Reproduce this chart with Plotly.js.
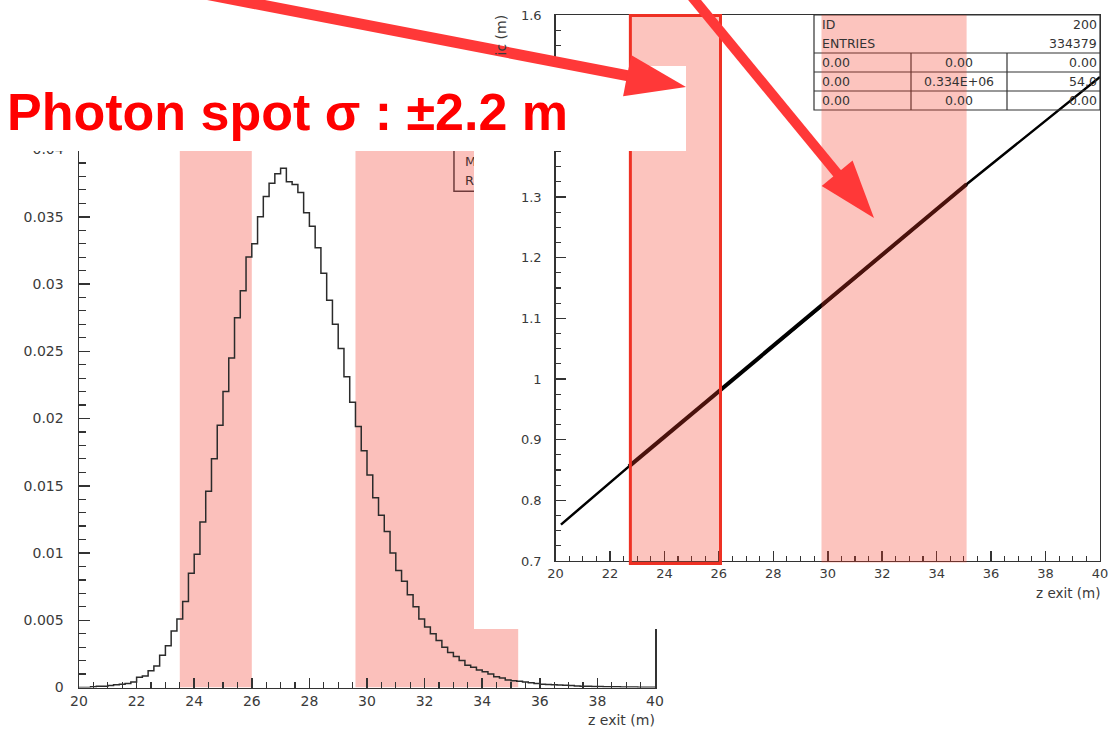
<!DOCTYPE html>
<html><head><meta charset="utf-8">
<script src="https://cdn.plot.ly/plotly-3.0.1.min.js"></script>
<style>html,body{margin:0;padding:0;background:#fff;overflow:hidden}#chart{width:1113px;height:731px}</style>
</head><body><div id="chart"></div>
<script>
// ---------- data ----------
const histBinStart = 20;
const histBinWidth = 0.2;
const histValues = [
  0, 0, 0.00006, 0.0001, 0.0001, 0.00015, 0.0002, 0.00025, 0.0003, 0.0004,
  0.00076, 0.00085, 0.00125, 0.0016, 0.0024, 0.0031, 0.0042, 0.0051, 0.0064, 0.0085,
  0.0099, 0.0123, 0.0146, 0.0170, 0.0195, 0.0220, 0.0245, 0.0275, 0.0295, 0.0320,
  0.0330, 0.0350, 0.0365, 0.0375, 0.0382, 0.0386, 0.0376, 0.0374, 0.0368, 0.0353,
  0.0343, 0.0327, 0.0308, 0.0288, 0.0270, 0.0252, 0.0231, 0.0212, 0.0194, 0.0176,
  0.0158, 0.0141, 0.0128, 0.0116, 0.0100, 0.0087, 0.0079, 0.0069, 0.0060, 0.0051,
  0.0045, 0.0040, 0.0035, 0.0030, 0.0026, 0.0023, 0.0020, 0.00165, 0.0015, 0.0013,
  0.00118, 0.0010, 0.0008, 0.0007, 0.00056, 0.0005, 0.00046, 0.0004, 0.00035, 0.0003,
  0.00025, 0.00022, 0.0002, 0.00018, 0.00016, 0.00014, 0.00012, 0.0001, 0.00009, 0.00008,
  0.00007, 0.00006, 0.00005, 0.00005, 0.00004, 0.00003, 0.00003, 0.00002, 0.00002, 0.00001
];
const scatterX = [20.2, 22.7, 26.0, 28.6, 29.8, 35.1, 38.7, 40.0];
const scatterY = [0.76, 0.856, 0.98, 1.076, 1.121, 1.321, 1.451, 1.498];

const xTickVals = [20, 22, 24, 26, 28, 30, 32, 34, 36, 38, 40];
const xTickText = ['20', '22', '24', '26', '28', '30', '32', '34', '36', '38', '40'];
const leftYTickVals = [0, 0.005, 0.01, 0.015, 0.02, 0.025, 0.03, 0.035, 0.04];
const leftYTickText = ['0', '0.005', '0.01', '0.015', '0.02', '0.025', '0.03', '0.035', '0.04'];
// 1.4 and 1.5 are hidden behind the title box in the picture
const rightYTickVals = [0.7, 0.8, 0.9, 1.0, 1.1, 1.2, 1.3, 1.4, 1.5, 1.6];
const rightYTickText = ['0.7', '0.8', '0.9', '1', '1.1', '1.2', '1.3', '', '', '1.6'];

const leftBands = [[23.5, 26.0], [29.6, 35.25]];
const rightBands = [[22.7, 26.06], [29.77, 35.1]];
const highlightBand = [22.75, 26.06];

const leftStatsLabels = ['MEAN', 'RMS'];
const leftStatsY = [0.039, 0.0376];
const statsLabels = ['ID', 'ENTRIES'];
const statsValues = ['200', '334379'];
const statsGrid = [
  ['0.00', '0.00', '0.00'],
  ['0.00', '0.334E+06', '54.0'],
  ['0.00', '0.00', '0.00']
];
const titleText = 'Photon spot σ : ±2.2 m';
const xTitleText = 'z exit (m)';
const rightYTitleText = 'ic (m)';

// ---------- helpers ----------
const W = 1113, H = 731;
const px = x => x / W;
const py = y => 1 - y / H;

const histX = histValues.map((_, i) => histBinStart + i * histBinWidth).concat([histBinStart + histValues.length * histBinWidth]);
const histY = histValues.concat([histValues[histValues.length - 1]]);

const tickFontL = {family: 'DejaVu Sans', size: 14, color: '#3a3a3a'};
const tickFontR = {family: 'DejaVu Sans', size: 13, color: '#3a3a3a'};
const axCol = '#333';

const traces = [
  {type: 'scatter', mode: 'lines', x: histX, y: histY, xaxis: 'x', yaxis: 'y',
   line: {shape: 'hv', color: '#2b2b2b', width: 1.5}, hoverinfo: 'skip'},
  {type: 'scatter', mode: 'text', x: leftStatsLabels.map(() => 33.4), y: leftStatsY, text: leftStatsLabels,
   textposition: 'middle right', cliponaxis: false, xaxis: 'x', yaxis: 'y',
   textfont: {family: 'DejaVu Sans', size: 13, color: '#4a3030'}, hoverinfo: 'skip'},
  {type: 'scatter', mode: 'lines', x: [], y: [], xaxis: 'x2', yaxis: 'y2', hoverinfo: 'skip'},
  {type: 'scatter', mode: 'lines', x: scatterX, y: scatterY, xaxis: 'x3', yaxis: 'y3',
   line: {color: '#000', width: 2.5}, hoverinfo: 'skip'},
  {type: 'scatter', mode: 'lines', x: scatterX.slice(1, 6), y: scatterY.slice(1, 6), xaxis: 'x3', yaxis: 'y3',
   line: {color: '#000', width: 4}, hoverinfo: 'skip'}
];

function axisBase(extra) {
  return Object.assign({
    showline: true, linecolor: axCol, linewidth: 1.5, mirror: true,
    ticks: 'inside', tickcolor: axCol, tickwidth: 1.5,
    showgrid: false, zeroline: false, fixedrange: true, tickmode: 'array'
  }, extra);
}

const shapes = [];
// left bands (under the histogram)
leftBands.forEach(b => shapes.push({type: 'rect', layer: 'below', xref: 'x', yref: 'y',
  x0: b[0], x1: b[1], y0: 0, y1: 0.04, fillcolor: '#fbc0bb', line: {width: 0}}));
// left stats box (mostly hidden)
shapes.push({type: 'rect', layer: 'below', xref: 'x', yref: 'y', x0: 33.02, x1: 37, y0: 0.0369, y1: 0.0405,
  fillcolor: 'rgba(0,0,0,0)', line: {color: '#6e3b3b', width: 1.5}});

// right stats box lines
const sb = {l: 814, r: 1100, t: 15, b: 110, rows: [53, 72, 91], cols: [911, 1007]};
shapes.push({type: 'rect', layer: 'above', xref: 'paper', yref: 'paper',
  x0: px(sb.l), x1: px(sb.r), y0: py(sb.b), y1: py(sb.t), line: {color: '#333', width: 1.2}});
sb.rows.forEach(r => shapes.push({type: 'line', layer: 'above', xref: 'paper', yref: 'paper',
  x0: px(sb.l), x1: px(sb.r), y0: py(r), y1: py(r), line: {color: '#333', width: 1.2}}));
sb.cols.forEach(c => shapes.push({type: 'line', layer: 'above', xref: 'paper', yref: 'paper',
  x0: px(c), x1: px(c), y0: py(sb.rows[0]), y1: py(sb.b), line: {color: '#333', width: 1.2}}));

// right bands (translucent, over the points)
rightBands.forEach(b => shapes.push({type: 'rect', layer: 'above', xref: 'x3', yref: 'paper',
  x0: b[0], x1: b[1], y0: py(562.5), y1: py(15), fillcolor: 'rgb(245,58,40)', opacity: 0.3, line: {width: 0}}));
// red highlight rectangle
shapes.push({type: 'rect', layer: 'above', xref: 'x3', yref: 'paper',
  x0: highlightBand[0], x1: highlightBand[1], y0: py(563.5), y1: py(15.5),
  fillcolor: 'rgba(0,0,0,0)', line: {color: '#ee3124', width: 3}});
// white box behind the big title
shapes.push({type: 'rect', layer: 'above', xref: 'paper', yref: 'paper',
  x0: 0, x1: px(686), y0: py(151), y1: py(66), fillcolor: '#fff', line: {width: 0}});

// arrows
const arrowCol = '#ff3838';
function arrow(sx, sy, tx, ty, L, Wd, lw) {
  const dx = tx - sx, dy = ty - sy, len = Math.hypot(dx, dy);
  const ux = dx / len, uy = dy / len, nx = -uy, ny = ux;
  const bx = tx - L * ux, by = ty - L * uy;
  shapes.push({type: 'line', layer: 'above', xref: 'paper', yref: 'paper',
    x0: px(sx), y0: py(sy), x1: px(bx + 4 * ux), y1: py(by + 4 * uy), line: {color: arrowCol, width: lw}});
  const c1 = [bx + Wd * nx, by + Wd * ny], c2 = [bx - Wd * nx, by - Wd * ny];
  shapes.push({type: 'path', layer: 'above', xref: 'paper', yref: 'paper',
    path: `M${px(tx)},${py(ty)} L${px(c1[0])},${py(c1[1])} L${px(c2[0])},${py(c2[1])} Z`,
    fillcolor: arrowCol, line: {width: 0}});
}
arrow(205, -6, 686, 87, 60, 21, 11);
arrow(688, -8, 874, 218, 58, 20, 10);

// annotations
const annotations = [
  {text: titleText, xref: 'paper', yref: 'paper', x: px(5), y: py(112), xanchor: 'left', yanchor: 'middle',
   showarrow: false, font: {family: 'Liberation Sans', size: 52, color: '#ff0000', weight: 'bold'}},
  {text: xTitleText, xref: 'paper', yref: 'paper', x: px(657), y: py(720), xanchor: 'right', yanchor: 'middle',
   showarrow: false, font: {family: 'DejaVu Sans', size: 14, color: '#3a3a3a'}},
  {text: xTitleText, xref: 'paper', yref: 'paper', x: px(1102), y: py(593), xanchor: 'right', yanchor: 'middle',
   showarrow: false, font: {family: 'DejaVu Sans', size: 13.5, color: '#3a3a3a'}},
  {text: rightYTitleText, xref: 'paper', yref: 'paper', x: px(501), y: py(13), xanchor: 'center', yanchor: 'top',
   textangle: -90, showarrow: false, font: {family: 'DejaVu Sans', size: 14, color: '#3a3a3a'}}
];
const statFont = {family: 'DejaVu Sans', size: 12.5, color: '#333'};
const topRowsY = [24, 43];
statsLabels.forEach((s, i) => {
  annotations.push({text: s, xref: 'paper', yref: 'paper', x: px(820), y: py(topRowsY[i]), xanchor: 'left', yanchor: 'middle', showarrow: false, font: statFont});
  annotations.push({text: statsValues[i], xref: 'paper', yref: 'paper', x: px(1099), y: py(topRowsY[i]), xanchor: 'right', yanchor: 'middle', showarrow: false, font: statFont});
});
const gridRowsY = [62.5, 81.5, 100.5];
statsGrid.forEach((row, r) => {
  annotations.push({text: row[0], xref: 'paper', yref: 'paper', x: px(820), y: py(gridRowsY[r]), xanchor: 'left', yanchor: 'middle', showarrow: false, font: statFont});
  annotations.push({text: row[1], xref: 'paper', yref: 'paper', x: px(959), y: py(gridRowsY[r]), xanchor: 'center', yanchor: 'middle', showarrow: false, font: statFont});
  annotations.push({text: row[2], xref: 'paper', yref: 'paper', x: px(1099), y: py(gridRowsY[r]), xanchor: 'right', yanchor: 'middle', showarrow: false, font: statFont});
});

const layout = {
  width: W, height: H, margin: {l: 0, r: 0, t: 0, b: 0, pad: 0},
  paper_bgcolor: '#fff', plot_bgcolor: '#fff', showlegend: false, hovermode: false,
  xaxis: axisBase({domain: [px(79), px(655)], range: [20, 40], anchor: 'y', ticklen: 10,
    tickvals: xTickVals, ticktext: xTickText, tickfont: tickFontL,
    minor: {tickmode: 'linear', tick0: 20, dtick: 0.5, ticks: 'inside', ticklen: 6, tickwidth: 1.2, tickcolor: axCol}}),
  yaxis: axisBase({domain: [py(687.5), py(149.5)], range: [0, 0.04], anchor: 'x', ticklen: 11,
    tickvals: leftYTickVals, ticktext: leftYTickText, tickfont: tickFontL, ticklabelstandoff: 11,
    minor: {tickmode: 'linear', tick0: 0, dtick: 0.001, ticks: 'inside', ticklen: 7, tickwidth: 1.2, tickcolor: axCol}}),
  xaxis2: {domain: [px(474), 1], range: [0, 1], anchor: 'y2', visible: false, fixedrange: true},
  yaxis2: {domain: [py(629), 1], range: [0, 1], anchor: 'x2', visible: false, fixedrange: true},
  xaxis3: axisBase({domain: [px(555.5), px(1100)], range: [20, 40], anchor: 'y3', ticklen: 10, linewidth: 1.3,
    tickvals: xTickVals, ticktext: xTickText, tickfont: tickFontR,
    minor: {tickmode: 'linear', tick0: 20, dtick: 0.5, ticks: 'inside', ticklen: 5, tickwidth: 1.1, tickcolor: axCol}}),
  yaxis3: axisBase({domain: [py(561), py(15)], range: [0.7, 1.6], anchor: 'x3', ticklen: 10, linewidth: 1.3,
    tickvals: rightYTickVals, ticktext: rightYTickText, tickfont: tickFontR, ticklabelstandoff: 10,
    minor: {tickmode: 'linear', tick0: 0.7, dtick: 0.025, ticks: 'inside', ticklen: 5, tickwidth: 1.1, tickcolor: axCol}}),
  shapes: shapes,
  annotations: annotations
};

Plotly.newPlot('chart', traces, layout, {displayModeBar: false, staticPlot: true});
</script>
</body></html>
